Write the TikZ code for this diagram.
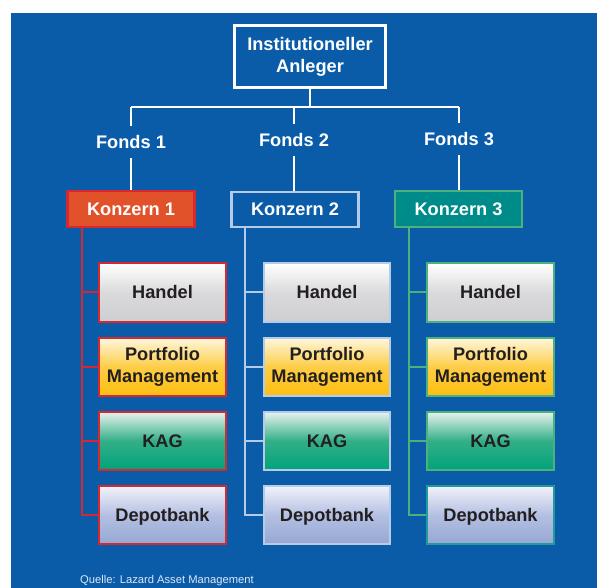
\documentclass[tikz,border=0pt]{standalone}
\usepackage{fontspec}
\setmainfont{Liberation Sans}
\definecolor{bgblue}{RGB}{10,92,168}
\definecolor{kred}{RGB}{215,40,47}
\definecolor{korange}{RGB}{225,82,42}
\definecolor{klblue}{RGB}{182,203,232}
\definecolor{kgreen}{RGB}{77,176,127}
\definecolor{kteal}{RGB}{0,139,139}
\definecolor{kteal2}{RGB}{28,156,154}
\definecolor{txt}{RGB}{35,31,32}
\definecolor{quelle}{RGB}{220,230,245}
\begin{document}
\begin{tikzpicture}[x=1pt,y=-1pt,
  wtext/.style={text=white,font=\fontsize{18.2}{21}\selectfont\bfseries},
  topbox/.style={draw=white,line width=2.8pt,minimum width=151pt,minimum height=62pt,inner sep=0pt,align=center,wtext,font=\fontsize{18.2}{22}\selectfont\bfseries},
  fonds/.style={wtext,inner sep=0pt,text height=13pt,text depth=0pt,minimum height=32pt},
  konz/.style={line width=2.4pt,minimum width=127pt,minimum height=35.5pt,inner sep=0pt,wtext,text height=13pt,text depth=0pt},
  sub/.style={line width=2.4pt,minimum width=126.5pt,minimum height=58.5pt,inner sep=0pt,text=txt,font=\fontsize{18.2}{22.5}\selectfont\bfseries,align=center},
  one/.style={text height=13pt,text depth=0pt},
  handel/.style={sub,one,top color=white,bottom color={rgb,255:red,206;green,206;blue,208},middle color={rgb,255:red,218;green,218;blue,220}},
  portf/.style={sub,top color={rgb,255:red,255;green,247;blue,222},bottom color={rgb,255:red,253;green,190;blue,16},middle color={rgb,255:red,253;green,205;blue,70}},
  kag/.style={sub,one,top color={rgb,255:red,232;green,243;blue,238},bottom color={rgb,255:red,0;green,163;blue,122},middle color={rgb,255:red,50;green,175;blue,135}},
  depot/.style={sub,one,top color={rgb,255:red,242;green,242;blue,250},bottom color={rgb,255:red,149;green,167;blue,211},middle color={rgb,255:red,180;green,192;blue,226}},
  wline/.style={draw=white,line width=2pt},
  line1/.style={draw=kred,line width=2pt},
  line2/.style={draw=klblue,line width=2pt},
  line3/.style={draw=kgreen,line width=2pt}]
\fill[white] (0,0) rectangle (598,588);
\fill[bgblue] (11,13) rectangle (597,588);
% top
\node[topbox] (top) at (310,56.5) {Institutioneller\\Anleger};
\node[fonds] (f1) at (131,142) {Fonds 1};
\node[fonds] (f2) at (294,140) {Fonds 2};
\node[fonds] (f3) at (459,139) {Fonds 3};
\coordinate (hl) at (131,107);
\coordinate (hr) at (459,107);
\draw[wline] (top.south) -- (top.south |- hl);
\draw[wline] (hl) -- (hr);
\draw[wline] (hl) -- (f1.north);
\draw[wline] (f2.north |- hl) -- (f2.north);
\draw[wline] (hr) -- (f3.north);
% Konzerne
\node[konz,draw=kred,fill=korange] (k1) at (131,209) {Konzern 1};
\node[konz,draw=klblue] (k2) at (295,209.5) {Konzern 2};
\node[konz,draw=kgreen,fill=kteal] (k3) at (458.5,209) {Konzern 3};
\draw[wline] (f1.south) -- (f1.south |- k1.north);
\draw[wline] (f2.south) -- (f2.south |- k2.north);
\draw[wline] (f3.south) -- (f3.south |- k3.north);
% group 1
\node[handel,draw=kred] (h1) at (162.5,292.5) {Handel};
\node[portf,draw=kred] (p1) at (162.5,367) {Portfolio\\Management};
\node[kag,draw=kred] (a1) at (162.5,441) {KAG};
\node[depot,draw=kred] (d1) at (162.5,515) {Depotbank};
\coordinate (t1) at (82,227);
\draw[line1] (t1) |- (h1.west);
\draw[line1] (t1) |- (p1.west);
\draw[line1] (t1) |- (a1.west);
\draw[line1] (t1) |- (d1.west);
% group 2
\node[handel,draw=klblue] (h2) at (327,292.5) {Handel};
\node[portf,draw=klblue] (p2) at (327,367) {Portfolio\\Management};
\node[kag,draw=klblue] (a2) at (327,441) {KAG};
\node[depot,draw=klblue] (d2) at (327,515) {Depotbank};
\coordinate (t2) at (245,228);
\draw[line2] (t2) |- (h2.west);
\draw[line2] (t2) |- (p2.west);
\draw[line2] (t2) |- (a2.west);
\draw[line2] (t2) |- (d2.west);
% group 3
\node[handel,draw=kgreen] (h3) at (490.5,292.5) {Handel};
\node[portf,draw=kgreen] (p3) at (490.5,367) {Portfolio\\Management};
\node[kag,draw=kgreen] (a3) at (490.5,441) {KAG};
\node[depot,draw=kteal2] (d3) at (490.5,515) {Depotbank};
\coordinate (t3) at (409,227);
\draw[line3] (t3) |- (h3.west);
\draw[line3] (t3) |- (p3.west);
\draw[line3] (t3) |- (a3.west);
\draw[line3] (t3) |- (d3.west);
% source
\node[anchor=base west,inner sep=0pt,text=quelle,font=\fontsize{11.2}{13}\selectfont] (src) at (80,583) {Quelle: Lazard Asset Management};
\end{tikzpicture}
\end{document}
